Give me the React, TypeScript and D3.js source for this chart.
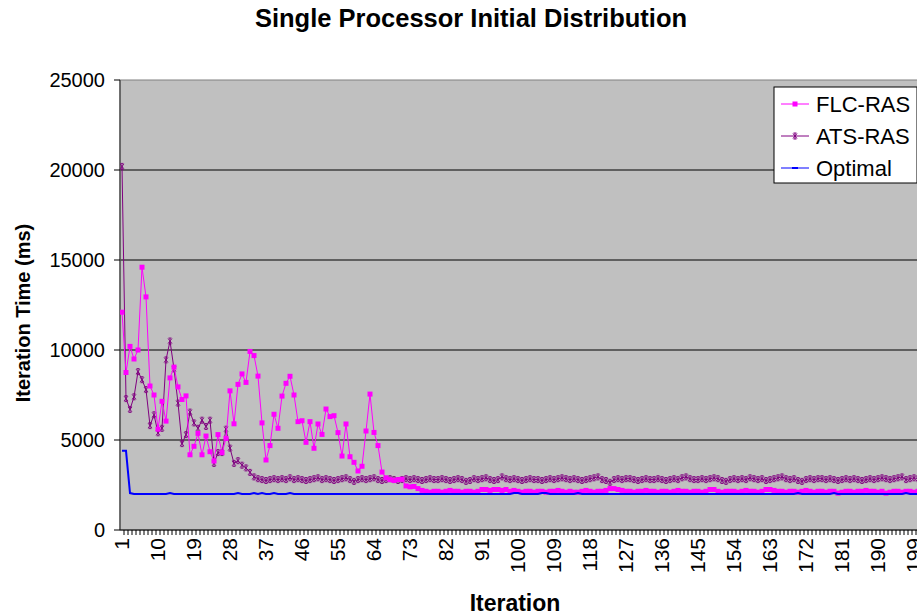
import React from 'react';
import * as d3 from 'd3';

const iterations: number[] = d3.range(1, 201);
const yTicks = [0, 5000, 10000, 15000, 20000, 25000];
const xTickLabels = [1, 10, 19, 28, 37, 46, 55, 64, 73, 82, 91, 100, 109, 118, 127, 136, 145, 154, 163, 172, 181, 190, 199];
const seriesNames = ['FLC-RAS', 'ATS-RAS', 'Optimal'];

const flcRas = [
  12100, 8750, 10200, 9500, 10000, 14600, 12950, 8000, 7500, 5600,
  7150, 6050, 8450, 9050, 7950, 7250, 7450, 4180, 4650, 5370,
  4180, 5220, 4350, 3830, 5300, 4300, 5090, 7730, 5900, 8090,
  8670, 8200, 9920, 9690, 8550, 5950, 3890, 4690, 6430, 5650,
  7440, 8150, 8540, 7500, 6020, 6070, 4870, 6020, 4540, 5890,
  5310, 6720, 6300, 6350, 5410, 4110, 5890, 4070, 3760, 3280,
  3540, 5500, 7550, 5420, 4690, 3220, 2900, 2800, 2750, 2800,
  2820, 2450, 2400, 2420, 2300,
  2200, 2150, 2100, 2150, 2150, 2100, 2150, 2200, 2150, 2150,
  2100, 2150, 2150, 2100, 2150, 2250, 2250, 2200, 2250, 2250,
  2200, 2250, 2150, 2200, 2150, 2100, 2150, 2150, 2100, 2150,
  2150, 2100, 2150, 2150, 2200, 2150, 2100, 2150, 2100, 2100,
  2150, 2200, 2150, 2100, 2150, 2150, 2200, 2300, 2300, 2250,
  2200, 2150, 2150, 2100, 2150, 2150, 2200, 2150, 2150, 2100,
  2150, 2150, 2100, 2150, 2200, 2150, 2150, 2100, 2150, 2150,
  2100, 2150, 2250, 2250, 2150, 2100, 2150, 2150, 2150, 2100,
  2150, 2200, 2150, 2150, 2100, 2150, 2250, 2250, 2200, 2150,
  2150, 2100, 2150, 2150, 2100, 2150, 2200, 2150, 2100, 2150,
  2150, 2100, 2150, 2150, 2050, 2100, 2150, 2150, 2100, 2150,
  2150, 2200, 2150, 2150, 2100, 2150, 2050, 2100, 2150, 2150,
  2100, 2150, 2150, 2100, 2150,
];

const atsRas = [
  20200, 7300, 6700, 7400, 8800, 8350, 7800, 5800, 6400, 5400,
  5650, 9450, 10500, 8950, 7050, 4800, 5300, 6550, 5950, 5650,
  6100, 5750, 6100, 3700, 4300, 4300, 5600, 4550, 3700, 3850,
  3600, 3450, 3200, 2950,
  2850, 2800, 2750, 2800, 2850, 2800, 2850, 2800, 2900, 2800,
  2850, 2800, 2750, 2800, 2850, 2900, 2800, 2850, 2800, 2750,
  2800, 2850, 2900, 2800, 2700, 2800, 2850, 2800, 2850, 2900,
  2800, 2750, 2800, 2850, 2800, 2750, 2800, 2850, 2800, 2850,
  2800, 2750, 2800, 2850, 2800, 2800, 2850, 2800, 2750, 2800,
  2850, 2800, 2700, 2750, 2850, 2800, 2850, 2900, 2800, 2750,
  2800, 2950, 2850, 2800, 2850, 2800, 2750, 2800, 2850, 2800,
  2800, 2750, 2800, 2850, 2800, 2850, 2900, 2850, 2800, 2850,
  2800, 2750, 2800, 2850, 2900, 2950, 2800, 2750, 2650, 2800,
  2850, 2800, 2850, 2850, 2800, 2750, 2800, 2850, 2800, 2800,
  2850, 2800, 2750, 2800, 2850, 2800, 2900, 2950, 2850, 2800,
  2800, 2850, 2800, 2850, 2900, 2850, 2750, 2700, 2800, 2850,
  2800, 2850, 2800, 2900, 2850, 2800, 2850, 2750, 2800, 2850,
  2900, 2950, 2850, 2800, 2850, 2750, 2700, 2800, 2850, 2800,
  2850, 2850, 2800, 2850, 2800, 2750, 2800, 2850, 2800, 2850,
  2800, 2750, 2800, 2850, 2800, 2850, 2900, 2850, 2800, 2850,
  2900, 2950, 2800, 2850, 2900, 2850,
];

const optimal = [
  4400, 4400, 2050, 2000, 2000, 2000, 2000, 2000, 2000, 2000,
  2000, 2000, 2050, 2000, 2000, 2000, 2000, 2000, 2000, 2000,
  2000, 2000, 2000, 2000, 2000, 2000, 2000, 2000, 2000, 2050,
  2000, 2000, 2000, 2050, 2000, 2050, 2000, 2000, 2050, 2000,
  2000, 2000, 2050, 2000, 2000, 2000, 2000, 2000, 2000, 2000,
  2000, 2000, 2000, 2000, 2000, 2000, 2000, 2000, 2000, 2000,
  2000, 2000, 2000, 2000, 2000, 2000, 2000, 2000, 2000, 2000,
  2000, 2000, 2000, 2000, 2000, 2000, 2000, 2000, 2000, 2000,
  2000, 2000, 2000, 2000, 2000, 2000, 2000, 2000, 2000, 2000,
  2000, 2000, 2000, 2000, 2000, 2000, 2000, 2000, 2050, 2050,
  2000, 2000, 2000, 2000, 2000, 2050, 2050, 2000, 2000, 2000,
  2000, 2000, 2000, 2000, 2050, 2000, 2000, 2000, 2000, 2000,
  2000, 2000, 2000, 2000, 2000, 2000, 2000, 2000, 2000, 2000,
  2000, 2000, 2000, 2000, 2000, 2000, 2000, 2000, 2000, 2000,
  2000, 2000, 2000, 2000, 2000, 2000, 2000, 2000, 2000, 2000,
  2000, 2000, 2000, 2000, 2000, 2000, 2000, 2000, 2000, 2000,
  2000, 2000, 2000, 2000, 2000, 2000, 2000, 2000, 2000, 2050,
  2000, 2000, 2000, 2000, 2000, 2000, 2000, 2000, 2050, 2000,
  2000, 2000, 2000, 2000, 2000, 2000, 2000, 2000, 2000, 2000,
  2000, 2000, 2000, 2000, 2000, 2000, 2050, 2000, 2000, 2000,
];

const FONT = 'Arial, "Liberation Sans", sans-serif';
const STAR = 'M-2,-2.5L2,2.5M-2,2.5L2,-2.5M0,-3L0,3M-1.5,-3L1.5,-3M-1.5,3L1.5,3';

export default function App() {
  const W = 917, H = 615;
  const left = 120, right = 920, top = 80, bottom = 530;
  const x = d3.scaleBand<number>().domain(iterations).range([left, right]).padding(0);
  const y = d3.scaleLinear().domain([0, 25000]).range([bottom, top]);
  const bw = x.bandwidth();
  const cx = (c: number) => (x(c) as number) + bw / 2;
  const line = d3.line<number>().x((_, i) => cx(iterations[i])).y((d) => y(d));

  const legendRows = [
    { name: seriesNames[0], color: '#FF00FF', kind: 'square', y: 104 },
    { name: seriesNames[1], color: '#800080', kind: 'star', y: 136 },
    { name: seriesNames[2], color: '#0000FF', kind: 'dash', y: 168 },
  ];

  return (
    <svg width={W} height={H} style={{ position: 'absolute', left: 0, top: 0, background: '#fff' }} fontFamily={FONT}>
      <defs>
        <clipPath id="plotClip">
          <rect x={left} y={top - 10} width={right - left} height={bottom - top + 10} />
        </clipPath>
      </defs>
      <text x={471} y={27} textAnchor="middle" fontSize={25.5} fontWeight="bold" fill="#000">
        Single Processor Initial Distribution
      </text>
      <rect x={left} y={top} width={right - left} height={bottom - top} fill="#C0C0C0" stroke="#808080" strokeWidth={1} />
      {yTicks.filter((t) => t > 0 && t < 25000).map((t) => (
        <line key={'g' + t} x1={left} x2={right} y1={y(t)} y2={y(t)} stroke="#000" strokeWidth={1.2} />
      ))}
      <line x1={left} x2={left} y1={top} y2={bottom} stroke="#555" strokeWidth={1.5} />
      {yTicks.map((t) => (
        <g key={'yt' + t}>
          <line x1={left - 6} x2={left} y1={y(t)} y2={y(t)} stroke="#000" strokeWidth={1} />
          <text x={105} y={y(t)} dy="0.35em" textAnchor="end" fontSize={20} fill="#000">{t}</text>
        </g>
      ))}
      <line x1={left} x2={right} y1={bottom} y2={bottom} stroke="#000" strokeWidth={1} />
      {iterations.map((c) => (
        <line key={'xt' + c} x1={(x(c) as number) + bw} x2={(x(c) as number) + bw} y1={bottom} y2={bottom + 5} stroke="#000" strokeWidth={1} />
      ))}
      {xTickLabels.map((c) => (
        <text key={'xl' + c} transform={`translate(${cx(c)},${bottom + 8}) rotate(-90)`} textAnchor="end" dy="0.35em" fontSize={21} fill="#000">{c}</text>
      ))}
      <g clipPath="url(#plotClip)">
        <path d={line(atsRas) || ''} fill="none" stroke="#800080" strokeWidth={1} />
        {atsRas.map((v, i) => (
          <path key={'a' + i} d={STAR} transform={`translate(${cx(iterations[i])},${y(v)})`} fill="none" stroke="#800080" strokeWidth={0.9} />
        ))}
        <path d={line(flcRas) || ''} fill="none" stroke="#FF00FF" strokeWidth={1} />
        {flcRas.map((v, i) => (
          <rect key={'f' + i} x={cx(iterations[i]) - 2.5} y={y(v) - 2.5} width={5} height={5} fill="#FF00FF" />
        ))}
        <path d={line(optimal) || ''} fill="none" stroke="#0000FF" strokeWidth={2} />
      </g>
      <text transform={`translate(30,${313}) rotate(-90)`} textAnchor="middle" fontSize={20} fontWeight="bold" fill="#000">Iteration Time (ms)</text>
      <text x={515} y={611} textAnchor="middle" fontSize={23} fontWeight="bold" fill="#000">Iteration</text>
      <rect x={774} y={87} width={143} height={96} fill="#fff" stroke="#000" strokeWidth={1} />
      {legendRows.map((r) => (
        <g key={r.name}>
          <line x1={781} x2={809} y1={r.y} y2={r.y} stroke={r.color} strokeWidth={1} />
          {r.kind === 'square' && <rect x={792.5} y={r.y - 2.5} width={5} height={5} fill={r.color} />}
          {r.kind === 'star' && <path d={STAR} transform={`translate(795,${r.y})`} fill="none" stroke={r.color} strokeWidth={1} />}
          {r.kind === 'dash' && <rect x={792} y={r.y - 1} width={6} height={2} fill={r.color} />}
          <text x={816} y={r.y} dy="0.35em" fontSize={22} fill="#000">{r.name}</text>
        </g>
      ))}
    </svg>
  );
}
